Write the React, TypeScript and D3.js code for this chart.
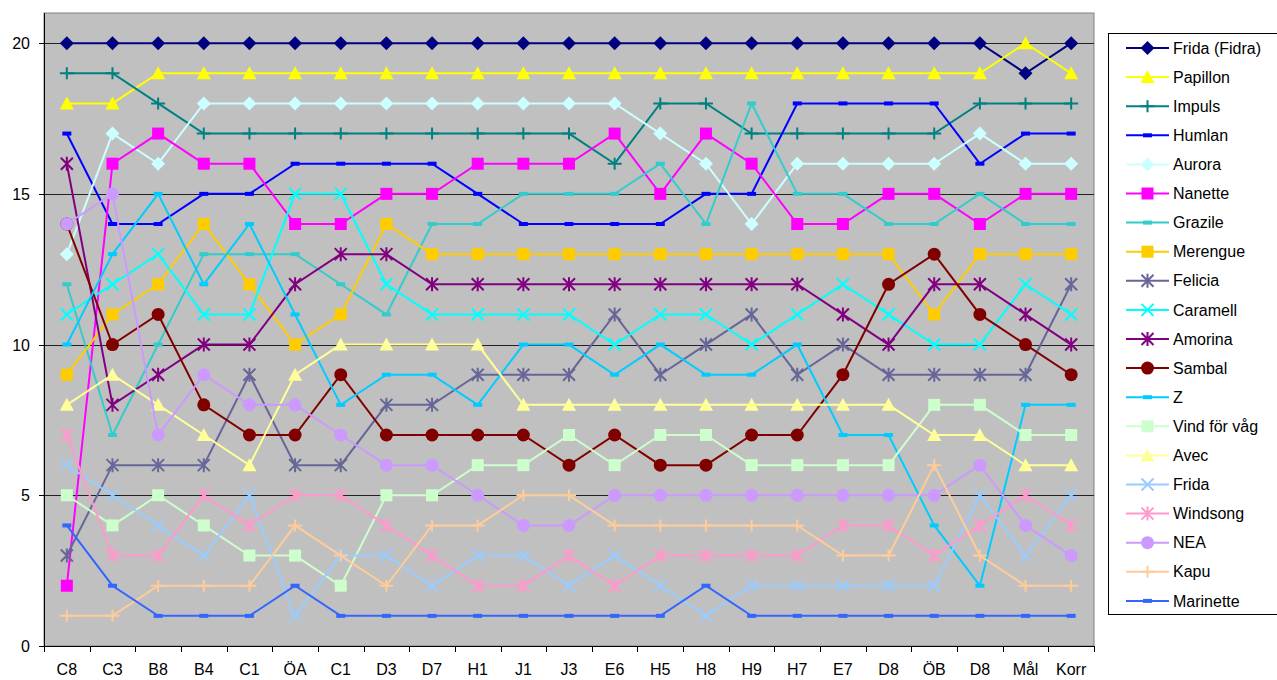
import React, { useEffect, useRef } from 'react';
import * as d3 from 'd3';

const categories = ['C8', 'C3', 'B8', 'B4', 'C1', 'ÖA', 'C1', 'D3', 'D7', 'H1', 'J1', 'J3', 'E6', 'H5', 'H8', 'H9', 'H7', 'E7', 'D8', 'ÖB', 'D8', 'Mål', 'Korr'];
const yTicks = [0, 5, 10, 15, 20];

const fridaFidra = [20, 20, 20, 20, 20, 20, 20, 20, 20, 20, 20, 20, 20, 20, 20, 20, 20, 20, 20, 20, 20, 19, 20];
const papillon = [18, 18, 19, 19, 19, 19, 19, 19, 19, 19, 19, 19, 19, 19, 19, 19, 19, 19, 19, 19, 19, 20, 19];
const impuls = [19, 19, 18, 17, 17, 17, 17, 17, 17, 17, 17, 17, 16, 18, 18, 17, 17, 17, 17, 17, 18, 18, 18];
const humlan = [17, 14, 14, 15, 15, 16, 16, 16, 16, 15, 14, 14, 14, 14, 15, 15, 18, 18, 18, 18, 16, 17, 17];
const aurora = [13, 17, 16, 18, 18, 18, 18, 18, 18, 18, 18, 18, 18, 17, 16, 14, 16, 16, 16, 16, 17, 16, 16];
const nanette = [2, 16, 17, 16, 16, 14, 14, 15, 15, 16, 16, 16, 17, 15, 17, 16, 14, 14, 15, 15, 14, 15, 15];
const grazile = [12, 7, 10, 13, 13, 13, 12, 11, 14, 14, 15, 15, 15, 16, 14, 18, 15, 15, 14, 14, 15, 14, 14];
const merengue = [9, 11, 12, 14, 12, 10, 11, 14, 13, 13, 13, 13, 13, 13, 13, 13, 13, 13, 13, 11, 13, 13, 13];
const felicia = [3, 6, 6, 6, 9, 6, 6, 8, 8, 9, 9, 9, 11, 9, 10, 11, 9, 10, 9, 9, 9, 9, 12];
const caramell = [11, 12, 13, 11, 11, 15, 15, 12, 11, 11, 11, 11, 10, 11, 11, 10, 11, 12, 11, 10, 10, 12, 11];
const amorina = [16, 8, 9, 10, 10, 12, 13, 13, 12, 12, 12, 12, 12, 12, 12, 12, 12, 11, 10, 12, 12, 11, 10];
const sambal = [14, 10, 11, 8, 7, 7, 9, 7, 7, 7, 7, 6, 7, 6, 6, 7, 7, 9, 12, 13, 11, 10, 9];
const z = [10, 13, 15, 12, 14, 11, 8, 9, 9, 8, 10, 10, 9, 10, 9, 9, 10, 7, 7, 4, 2, 8, 8];
const vindForVag = [5, 4, 5, 4, 3, 3, 2, 5, 5, 6, 6, 7, 6, 7, 7, 6, 6, 6, 6, 8, 8, 7, 7];
const avec = [8, 9, 8, 7, 6, 9, 10, 10, 10, 10, 8, 8, 8, 8, 8, 8, 8, 8, 8, 7, 7, 6, 6];
const frida = [6, 5, 4, 3, 5, 1, 3, 3, 2, 3, 3, 2, 3, 2, 1, 2, 2, 2, 2, 2, 5, 3, 5];
const windsong = [7, 3, 3, 5, 4, 5, 5, 4, 3, 2, 2, 3, 2, 3, 3, 3, 3, 4, 4, 3, 4, 5, 4];
const nea = [14, 15, 7, 9, 8, 8, 7, 6, 6, 5, 4, 4, 5, 5, 5, 5, 5, 5, 5, 5, 6, 4, 3];
const kapu = [1, 1, 2, 2, 2, 4, 3, 2, 4, 4, 5, 5, 4, 4, 4, 4, 4, 3, 3, 6, 3, 2, 2];
const marinette = [4, 2, 1, 1, 1, 2, 1, 1, 1, 1, 1, 1, 1, 1, 2, 1, 1, 1, 1, 1, 1, 1, 1];

type Marker = 'diamond' | 'triangle' | 'plus' | 'dash' | 'square' | 'star' | 'x' | 'circle';

const series: { name: string; values: number[]; color: string; marker: Marker }[] = [
  { name: 'Frida (Fidra)', values: fridaFidra, color: '#000080', marker: 'diamond' },
  { name: 'Papillon', values: papillon, color: '#FFFF00', marker: 'triangle' },
  { name: 'Impuls', values: impuls, color: '#008080', marker: 'plus' },
  { name: 'Humlan', values: humlan, color: '#0000FF', marker: 'dash' },
  { name: 'Aurora', values: aurora, color: '#CCFFFF', marker: 'diamond' },
  { name: 'Nanette', values: nanette, color: '#FF00FF', marker: 'square' },
  { name: 'Grazile', values: grazile, color: '#33CCCC', marker: 'dash' },
  { name: 'Merengue', values: merengue, color: '#FFCC00', marker: 'square' },
  { name: 'Felicia', values: felicia, color: '#666699', marker: 'star' },
  { name: 'Caramell', values: caramell, color: '#00FFFF', marker: 'x' },
  { name: 'Amorina', values: amorina, color: '#800080', marker: 'star' },
  { name: 'Sambal', values: sambal, color: '#800000', marker: 'circle' },
  { name: 'Z', values: z, color: '#00CCFF', marker: 'dash' },
  { name: 'Vind för våg', values: vindForVag, color: '#CCFFCC', marker: 'square' },
  { name: 'Avec', values: avec, color: '#FFFF99', marker: 'triangle' },
  { name: 'Frida', values: frida, color: '#99CCFF', marker: 'x' },
  { name: 'Windsong', values: windsong, color: '#FF99CC', marker: 'star' },
  { name: 'NEA', values: nea, color: '#CC99FF', marker: 'circle' },
  { name: 'Kapu', values: kapu, color: '#FFCC99', marker: 'plus' },
  { name: 'Marinette', values: marinette, color: '#3366FF', marker: 'dash' },
];

const FONT = '"Liberation Sans", Arial, sans-serif';

function drawMarker(g: any, type: Marker, color: string, x: number, y: number) {
  const m = g.append('g').attr('transform', `translate(${x},${y})`);
  switch (type) {
    case 'diamond':
      m.append('path').attr('d', 'M0,-7L7,0L0,7L-7,0Z').attr('fill', color);
      break;
    case 'triangle':
      m.append('path').attr('d', 'M0,-7L7,6L-7,6Z').attr('fill', color);
      break;
    case 'square':
      m.append('rect').attr('x', -6).attr('y', -6).attr('width', 12).attr('height', 12).attr('fill', color);
      break;
    case 'circle':
      m.append('circle').attr('r', 6.5).attr('fill', color);
      break;
    case 'dash':
      m.append('rect').attr('x', -4.5).attr('y', -2).attr('width', 9).attr('height', 4).attr('fill', color);
      break;
    case 'plus':
      m.append('path').attr('d', 'M-7,0H7M0,-6V6').attr('stroke', color).attr('stroke-width', 2);
      break;
    case 'x':
      m.append('path').attr('d', 'M-6,-6L6,6M-6,6L6,-6').attr('stroke', color).attr('stroke-width', 2);
      break;
    case 'star':
      m.append('path').attr('d', 'M-6,-6L6,6M-6,6L6,-6M0,-7V7').attr('stroke', color).attr('stroke-width', 2);
      break;
  }
}

export default function App() {
  const svgRef = useRef<SVGSVGElement>(null);
  const width = 1277;
  const height = 680;
  const plot = { left: 44, right: 1094, top: 13, bottom: 646 };

  useEffect(() => {
    if (!svgRef.current) return;
    const svg = d3.select(svgRef.current);
    svg.selectAll('*').remove();

    const idx = categories.map((_, i) => i);
    const x = d3.scaleBand<number>().domain(idx).range([plot.left, plot.right]);
    const y = d3.scaleLinear().domain([0, 21]).range([plot.bottom, plot.top]);
    const cx = (i: number) => (x(i) as number) + x.bandwidth() / 2;

    svg.append('rect').attr('width', width).attr('height', height).attr('fill', '#fff');

    // plot area
    svg.append('rect')
      .attr('x', plot.left).attr('y', plot.top)
      .attr('width', plot.right - plot.left).attr('height', plot.bottom - plot.top)
      .attr('fill', '#C0C0C0').attr('stroke', '#808080').attr('stroke-width', 1);

    // gridlines
    svg.append('g').selectAll('line').data(yTicks.filter(t => t > 0)).join('line')
      .attr('x1', plot.left).attr('x2', plot.right)
      .attr('y1', d => Math.round(y(d)) + 0.5).attr('y2', d => Math.round(y(d)) + 0.5)
      .attr('stroke', '#222').attr('stroke-width', 1);

    // y axis
    const yAxis = svg.append('g');
    yAxis.append('line').attr('x1', plot.left + 0.5).attr('x2', plot.left + 0.5)
      .attr('y1', plot.top).attr('y2', plot.bottom).attr('stroke', '#000');
    yTicks.forEach(t => {
      const yy = Math.round(y(t)) + 0.5;
      yAxis.append('line').attr('x1', plot.left - 5).attr('x2', plot.left).attr('y1', yy).attr('y2', yy).attr('stroke', '#000');
      yAxis.append('text').attr('x', 30).attr('y', yy).attr('dy', '0.35em')
        .attr('text-anchor', 'end').attr('font-family', FONT).attr('font-size', 16).text(t);
    });

    // x axis
    const xAxis = svg.append('g');
    xAxis.append('line').attr('x1', plot.left).attr('x2', plot.right)
      .attr('y1', plot.bottom + 0.5).attr('y2', plot.bottom + 0.5).attr('stroke', '#000');
    d3.range(categories.length + 1).forEach(i => {
      const xx = Math.round(plot.left + i * x.bandwidth()) + 0.5;
      xAxis.append('line').attr('x1', xx).attr('x2', xx).attr('y1', plot.bottom).attr('y2', plot.bottom + 6).attr('stroke', '#000');
    });
    categories.forEach((c, i) => {
      xAxis.append('text').attr('x', cx(i)).attr('y', 675)
        .attr('text-anchor', 'middle').attr('font-family', FONT).attr('font-size', 16).text(c);
    });

    // series
    const line = d3.line<number>().x((_, i) => cx(i)).y(d => y(d));
    series.forEach(s => {
      const g = svg.append('g');
      g.append('path').attr('d', line(s.values)).attr('fill', 'none')
        .attr('stroke', s.color).attr('stroke-width', 2);
      s.values.forEach((v, i) => drawMarker(g, s.marker, s.color, cx(i), y(v)));
    });

    // legend
    const lg = svg.append('g');
    lg.append('rect').attr('x', 1108.5).attr('y', 33.5).attr('width', 170).attr('height', 581)
      .attr('fill', '#fff').attr('stroke', '#000');
    series.forEach((s, i) => {
      const ly = 48 + i * 29.1;
      const row = lg.append('g');
      row.append('line').attr('x1', 1126).attr('x2', 1169).attr('y1', ly).attr('y2', ly)
        .attr('stroke', s.color).attr('stroke-width', 2);
      drawMarker(row, s.marker, s.color, 1147.5, ly);
      row.append('text').attr('x', 1173).attr('y', ly).attr('dy', '0.35em')
        .attr('font-family', FONT).attr('font-size', 16).text(s.name);
    });
  }, []);

  return (
    <svg ref={svgRef} width={width} height={height}
      style={{ position: 'absolute', left: 0, top: 0, display: 'block' }} />
  );
}
